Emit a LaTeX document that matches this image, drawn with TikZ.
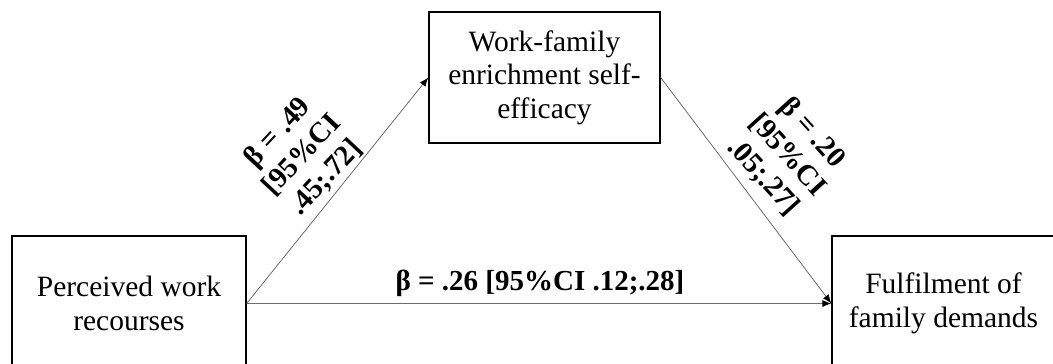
\documentclass[tikz,border=0pt]{standalone}
\usepackage{fontspec}
\setmainfont{Liberation Serif}
\usetikzlibrary{arrows.meta}
\tikzset{
  boxnode/.style={draw=black, line width=1.3pt, align=center, inner sep=0pt,
    font=\fontsize{29.5}{33.5}\selectfont},
  conn/.style={draw=gray!85!black, line width=0.8pt, -{Latex[length=9pt,width=7pt,color=black]}},
  lbl/.style={align=center, inner sep=0pt, font=\fontsize{29}{33}\selectfont\bfseries}
}
\begin{document}
\begin{tikzpicture}[x=1pt,y=-1pt]
\clip (0,0) rectangle (1053,364);
\fill[white] (0,0) rectangle (1053,364);
\node[boxnode, minimum width=234pt, minimum height=135pt] (pw) at (129,303.5) {Perceived work\\recourses};
\node[boxnode, minimum width=231pt, minimum height=131pt] (wf) at (544.5,77.5) {Work-family\\enrichment self-\\efficacy};
\node[boxnode, minimum width=223pt, minimum height=135pt] (fd) at (943.5,303.5) {Fulfilment of\\family demands};
\draw[conn] (pw.east) -- (wf.west);
\draw[conn] (wf.east) -- (fd.west);
\draw[conn] (pw.east) -- (fd.west);
\node[lbl, rotate=47] (l1) at (302,155) {β = .49\\{[}95\%CI\\.45;.72]};
\node[lbl, rotate=-48] (l2) at (788,155) {β = .20\\{[}95\%CI\\.05;.27]};
\node[lbl, anchor=base] (l3) at (540,290) {β = .26 [95\%CI .12;.28]};
\end{tikzpicture}
\end{document}
